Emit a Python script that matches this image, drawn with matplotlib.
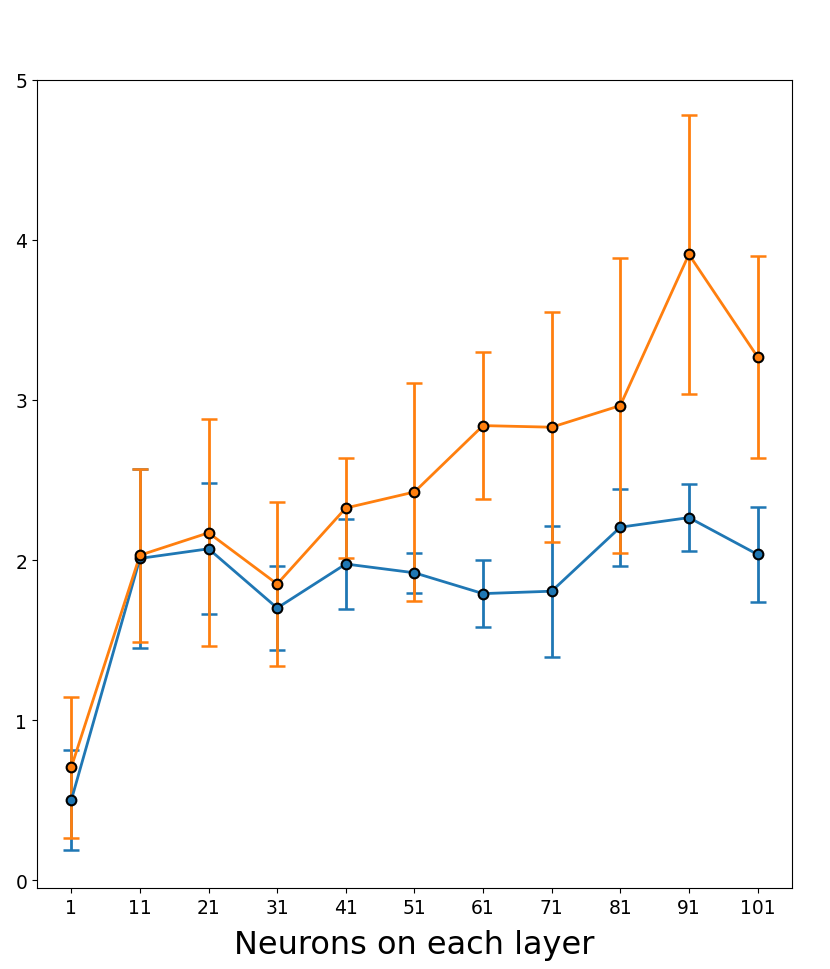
import numpy as np
import matplotlib
matplotlib.use("Agg")
import matplotlib.pyplot as plt

neurons = [1, 11, 21, 31, 41, 51, 61, 71, 81, 91, 101]

blue_mean = [0.50, 2.01, 2.07, 1.70, 1.975, 1.92, 1.79, 1.805, 2.205, 2.265, 2.035]
blue_err = [0.31, 0.56, 0.41, 0.265, 0.28, 0.125, 0.21, 0.41, 0.24, 0.21, 0.295]

orange_mean = [0.705, 2.03, 2.17, 1.85, 2.325, 2.425, 2.84, 2.83, 2.965, 3.91, 3.27]
orange_err = [0.44, 0.54, 0.71, 0.515, 0.31, 0.68, 0.46, 0.72, 0.92, 0.87, 0.63]


def main():
    fig = plt.figure(figsize=(8.3, 9.7), dpi=100)
    ax = fig.add_axes([0.0446, 0.0835, 0.9094, 0.833])

    series = [(blue_mean, blue_err, "#1f77b4"), (orange_mean, orange_err, "#ff7f0e")]
    for mean, err, color in series:
        ax.errorbar(neurons, mean, yerr=err, color=color, lw=2,
                    elinewidth=2, capsize=6, capthick=1.8, zorder=2)
    for mean, err, color in series:
        ax.plot(neurons, mean, "o", color=color, markersize=7,
                markeredgecolor="black", markeredgewidth=1.5, zorder=3)

    ax.set_xticks(neurons)
    ax.set_ylim(-0.05, 5)
    ax.set_yticks([0, 1, 2, 3, 4, 5])
    ax.tick_params(labelsize=13.5)
    ax.set_xlabel("Neurons on each layer", fontsize=23, labelpad=9)

    fig.savefig("out.png", dpi=100)


if __name__ == "__main__":
    main()
